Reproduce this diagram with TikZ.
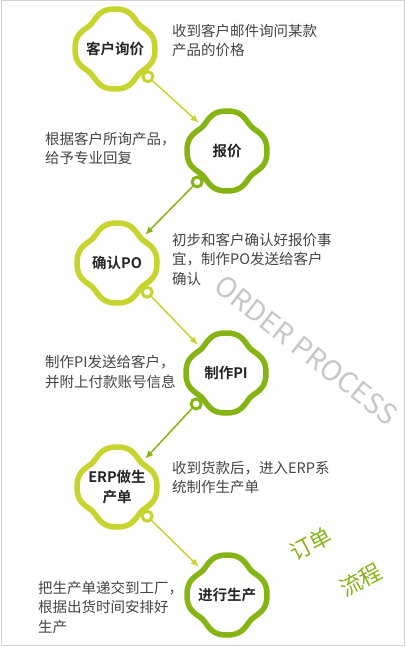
\documentclass[tikz,border=0pt]{standalone}
\usepackage{fontspec}
\setmainfont{Noto Sans CJK SC}[BoldFont={Noto Sans CJK SC Bold}]
\usepackage{xcolor}
\definecolor{mlime}{HTML}{C8D42E}
\definecolor{mgreen}{HTML}{86B415}
\definecolor{mtext}{HTML}{444444}
\definecolor{mframe}{HTML}{D2D2D2}
\usetikzlibrary{arrows.meta,calc}

\begin{document}
\begin{tikzpicture}[x=1pt,y=-1pt,
    bubble/.style={circle,minimum size=80pt,inner sep=0pt,outer sep=0pt,align=center,
      font=\fontsize{14.5}{20}\selectfont\bfseries,text=black!85},
    ring/.style={circle,draw=#1,line width=3pt,fill=white,minimum size=10pt,inner sep=0pt},
    note/.style={anchor=west,align=left,inner sep=0pt,font=\fontsize{14.5}{19.5}\selectfont,text=mtext},
    flow/.style={line width=1.5pt,-{Latex[length=8pt,width=7pt]}}]
            \useasboundingbox (0,0) rectangle (406,647);
            \draw[mframe, line width=1.5pt] (1.5,0.75) rectangle (404.5,645.5);
            \node[bubble] (ask) at (115,49) {客户询价};
            \node[bubble] (quote) at (227,151) {报价};
            \node[bubble] (po) at (117,263) {确认PO};
            \node[bubble] (pi) at (226,373) {制作PI};
            \node[bubble] (erp) at (117,487) {ERP做生\\产单};
            \node[bubble] (make) at (227,595) {进行生产};
            \foreach \n/\c in {ask/mlime, quote/mgreen, po/mlime, pi/mgreen, erp/mlime, make/mgreen}
                \draw[\c, line width=5.5pt, shift={(\n.center)}]
                    plot[domain=0:357, samples=120, smooth cycle] (\x:{40-5.5*pow(sin(2*\x),4)});
            \node[ring=mlime] (ask r) at ($(ask)+(40:43)$) {};
            \node[ring=mgreen] (quote r) at ($(quote)+(134:43)$) {};
            \node[ring=mlime] (po r) at ($(po)+(44:42)$) {};
            \node[ring=mgreen] (pi r) at ($(pi)+(134:43)$) {};
            \node[ring=mlime] (erp r) at ($(erp)+(44:42)$) {};
            \draw[flow, mlime] (ask r) -- (quote.north west);
            \draw[flow, mgreen] (quote r) -- (po.north east);
            \draw[flow, mlime] (po r) -- (pi.north west);
            \draw[flow, mgreen] (pi r) -- (erp.north east);
            \draw[flow, mlime] (erp r) -- (make.north west);
            \node[note] (ask t) at (172,40.5) {收到客户邮件询问某款\\产品的价格};
            \node[note] (quote t) at (45,148.5) {根据客户所询产品，\\给予专业回复};
            \node[note] (po t) at (172,259) {初步和客户确认好报价事\\宜，制作PO发送给客户\\确认};
            \node[note] (pi t) at (45,372) {制作PI发送给客户，\\并附上付款账号信息};
            \node[note] (erp t) at (172,477.5) {收到货款后，进入ERP系\\统制作生产单};
            \node[note] (make t) at (38,607) {把生产单递交到工厂，\\根据出货时间安排好\\生产};
            \node[rotate=-38, text=black!22, font=\fontsize{28}{28}\selectfont] (mark) at (306,350) {ORDER PROCESS};
            \node[rotate=28, text=mgreen, font=\fontsize{22}{22}\selectfont] (title a) at (311,544) {订单};
            \node[rotate=28, text=mgreen, font=\fontsize{22}{22}\selectfont] (title b) at (361,580) {流程};
        \end{tikzpicture}
\end{document}
